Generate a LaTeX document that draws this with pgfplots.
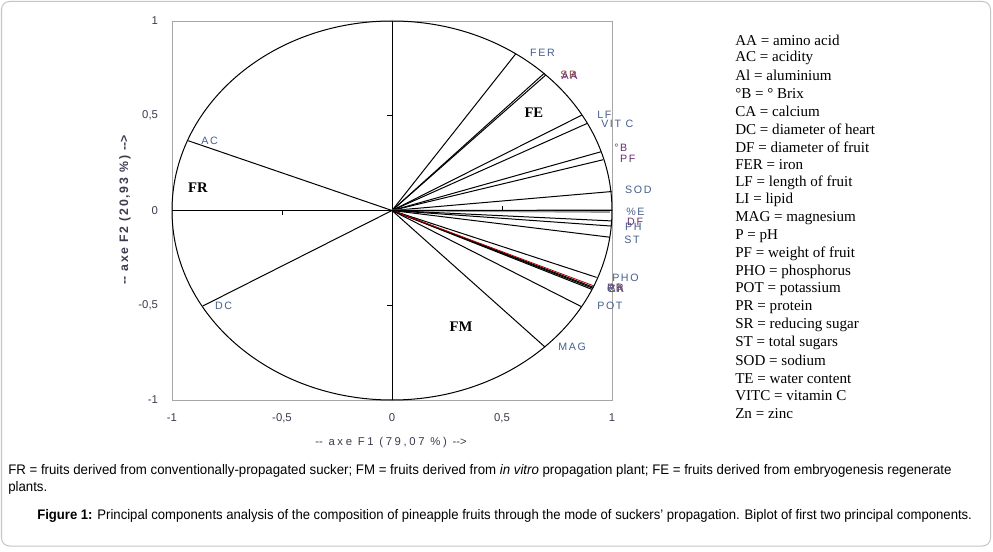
\documentclass[border=0pt]{standalone}
\usepackage{pgfplots}
\pgfplotsset{compat=1.18}
\usepackage{graphicx}
\usepackage{fontspec}
\setmainfont{Liberation Serif}
\newfontfamily\arial{Liberation Sans}
\newfontfamily\arialsp[LetterSpace=15]{Liberation Sans}
\newfontfamily\arialxl[LetterSpace=23]{Liberation Sans}
\newfontfamily\arialbd[LetterSpace=14]{Liberation Sans Bold}
\definecolor{lab}{RGB}{70,95,140}
\definecolor{labp}{RGB}{110,45,110}
\definecolor{labr}{RGB}{140,80,50}
\definecolor{tickc}{RGB}{60,60,80}
\newcommand{\hy}{\mbox{-}}

\begin{document}
\begin{tikzpicture}[
  lbl/.style={anchor=west, inner sep=0pt, font=\arialsp\fontsize{8}{9.6}\selectfont, text=lab},
  reg/.style={inner sep=0pt, font=\bfseries\fontsize{11}{13}\selectfont},
  captxt/.style={anchor=west, inner sep=0pt, font=\arial\fontsize{10.4}{12}\selectfont},
]
\path[use as bounding box] (0,0) rectangle (744.75pt,-414pt);
\fill[white] (0,0) rectangle (744.75pt,-414pt);

\begin{axis}[
  at={(129pt,-300pt)}, anchor=south west,
  scale only axis, width=330pt, height=284.25pt,
  xmin=-1, xmax=1, ymin=-1, ymax=1,
  axis line style={gray!70, line width=0.6pt},
  xtick={-1,-0.5,0,0.5,1}, ytick={-1,-0.5,0,0.5,1},
  xticklabels={{\hy1},{\hy0,5},{0},{0,5},{1}},
  yticklabels={{\hy1},{\hy0,5},{0},{0,5},{1}},
  major tick length=0pt,
  tick label style={font=\arial\fontsize{8.5}{10}\selectfont, text=tickc},
  xticklabel style={yshift=-7pt},
  yticklabel style={xshift=-7pt},
  clip=false,
]
% unit circle and central axes
\draw[black, line width=0.75pt] (axis cs:0,0) ellipse [x radius=1, y radius=1];
\draw[black, line width=0.75pt] (axis cs:-1,0) -- (axis cs:1,0);
\draw[black, line width=0.75pt] (axis cs:0,-1) -- (axis cs:0,1);
\draw[black, line width=0.6pt] (axis cs:-0.5,0) -- ++(0pt,-3.5pt);
\draw[black, line width=0.6pt] (axis cs:0.5,0) -- ++(0pt,3.5pt);
\draw[black, line width=0.6pt] (axis cs:0,-0.5) -- ++(-3.5pt,0pt);
\draw[black, line width=0.6pt] (axis cs:0,0.5) -- ++(-3.5pt,0pt);

% variable vectors (F1, F2)
\addplot[black, line width=0.75pt] coordinates {(0,0) (-0.926,0.368)}; % AC
\addplot[black, line width=0.75pt] coordinates {(0,0) (-0.860,-0.504)}; % DC
\addplot[black, line width=0.75pt] coordinates {(0,0) (0.562,0.826)}; % FER
\addplot[black, line width=0.75pt] coordinates {(0,0) (0.693,0.725)}; % SR
\addplot[black, line width=0.75pt] coordinates {(0,0) (0.700,0.716)}; % AA
\addplot[black, line width=0.75pt] coordinates {(0,0) (0.864,0.504)}; % LF
\addplot[black, line width=0.75pt] coordinates {(0,0) (0.888,0.460)}; % VITC
\addplot[black, line width=0.75pt] coordinates {(0,0) (0.950,0.310)}; % B
\addplot[black, line width=0.75pt] coordinates {(0,0) (0.960,0.268)}; % PF
\addplot[black, line width=0.75pt] coordinates {(0,0) (0.998,0.100)}; % SOD
\addplot[gray!80, line width=1.3pt] coordinates {(0,0) (0.990,-0.008)}; % TE
\addplot[black, line width=0.75pt] coordinates {(0,0) (1.000,0.002)}; % LI
\addplot[black, line width=0.75pt] coordinates {(0,0) (0.998,-0.055)}; % DF
\addplot[black, line width=0.75pt] coordinates {(0,0) (0.996,-0.082)}; % P
\addplot[black, line width=0.75pt] coordinates {(0,0) (0.990,-0.141)}; % ST
\addplot[black, line width=0.75pt] coordinates {(0,0) (0.930,-0.353)}; % PHO
\addplot[black, line width=0.75pt] coordinates {(0,0) (0.912,-0.410)}; % PR
\addplot[black, line width=0.75pt] coordinates {(0,0) (0.908,-0.416)}; % Al
\addplot[black, line width=0.75pt] coordinates {(0,0) (0.915,-0.405)}; % Zn
\addplot[red!70!black, line width=0.6pt] coordinates {(0,0) (0.918,-0.398)}; % CA
\addplot[black, line width=0.75pt] coordinates {(0,0) (0.862,-0.508)}; % POT
\addplot[black, line width=0.75pt] coordinates {(0,0) (0.695,-0.720)}; % MAG

% variable labels
\node[lbl] at (axis cs:-0.868,0.367) {AC};
\node[lbl] at (axis cs:-0.805,-0.504) {DC};
\node[lbl] at (axis cs:0.627,0.831) {FER};
\node[lbl, text=labr] at (axis cs:0.764,0.715) {SR};
\node[lbl, text=labp] at (axis cs:0.770,0.712) {AA};
\node[lbl] at (axis cs:0.932,0.504) {LF};
\node[lbl] at (axis cs:0.950,0.456) {VIT C};
\node[lbl, text=labp] at (axis cs:1.009,0.330) {°B};
\node[lbl, text=labp] at (axis cs:1.036,0.272) {PF};
\node[lbl] at (axis cs:1.059,0.108) {SOD};
\node[lbl] at (axis cs:1.064,-0.008) {\%E};
\node[lbl, text=labp] at (axis cs:1.068,-0.058) {DF};
\node[lbl] at (axis cs:1.059,-0.084) {PH};
\node[lbl] at (axis cs:1.055,-0.156) {ST};
\node[lbl] at (axis cs:1.000,-0.356) {PHO};
\node[lbl, text=labp] at (axis cs:0.977,-0.409) {PR};
\node[lbl] at (axis cs:0.982,-0.409) {Al};
\node[lbl, text=labr] at (axis cs:0.986,-0.413) {Zn};
\node[lbl] at (axis cs:0.977,-0.413) {CA};
\node[lbl] at (axis cs:0.932,-0.504) {POT};
\node[lbl] at (axis cs:0.755,-0.720) {MAG};

% group labels
\node[reg] at (axis cs:0.645,0.515) {FE};
\node[reg] at (axis cs:-0.882,0.119) {FR};
\node[reg] at (axis cs:0.314,-0.615) {FM};
\end{axis}

\begin{scope}[x=0.75pt,y=-0.75pt]
\draw[gray!45, line width=0.75pt, rounded corners=6pt] (1.5,1.5) rectangle (990.5,546);
\node[font=\arialxl\fontsize{8.5}{10}\selectfont, text=tickc] at (391,443)
  {\hy\hy{} axe F1 (79,07 \%) \hy\hy>};
\node[rotate=90, font=\arialbd\fontsize{9.2}{10}\selectfont, text=tickc] at (125,210)
  {\hy\hy{} axe F2 (20,93 \%) \hy\hy>};
\foreach \t [count=\i from 0] in {AA = amino acid, AC = acidity, Al = aluminium,
  °B = ° Brix, CA = calcium, DC = diameter of heart, DF = diameter of fruit,
  FER = iron, LF = length of fruit, LI = lipid, MAG = magnesium, P = pH,
  PF = weight of fruit, PHO = phosphorus, POT = potassium, PR = protein,
  SR = reducing sugar, ST = total sugars, SOD = sodium, TE = water content,
  VITC = vitamin C, Zn = zinc}
  \node[anchor=west, inner sep=0pt, font=\fontsize{11.3}{13}\selectfont] at (735,{40+17.8*\i}) {\t};
\node[captxt] at (8,471)
  {\scalebox{0.955}[1]{FR = fruits derived from conventionally-propagated sucker; FM = fruits derived from \textit{in vitro} propagation plant; FE = fruits derived from embryogenesis regenerate}};
\node[captxt] at (8,488)
  {\scalebox{0.955}[1]{plants.}};
\node[captxt] at (37,516)
  {\scalebox{0.945}[1]{\textbf{Figure 1:} Principal components analysis of the composition of pineapple fruits through the mode of suckers’ propagation. Biplot of first two principal components.}};
\end{scope}
\end{tikzpicture}
\end{document}
